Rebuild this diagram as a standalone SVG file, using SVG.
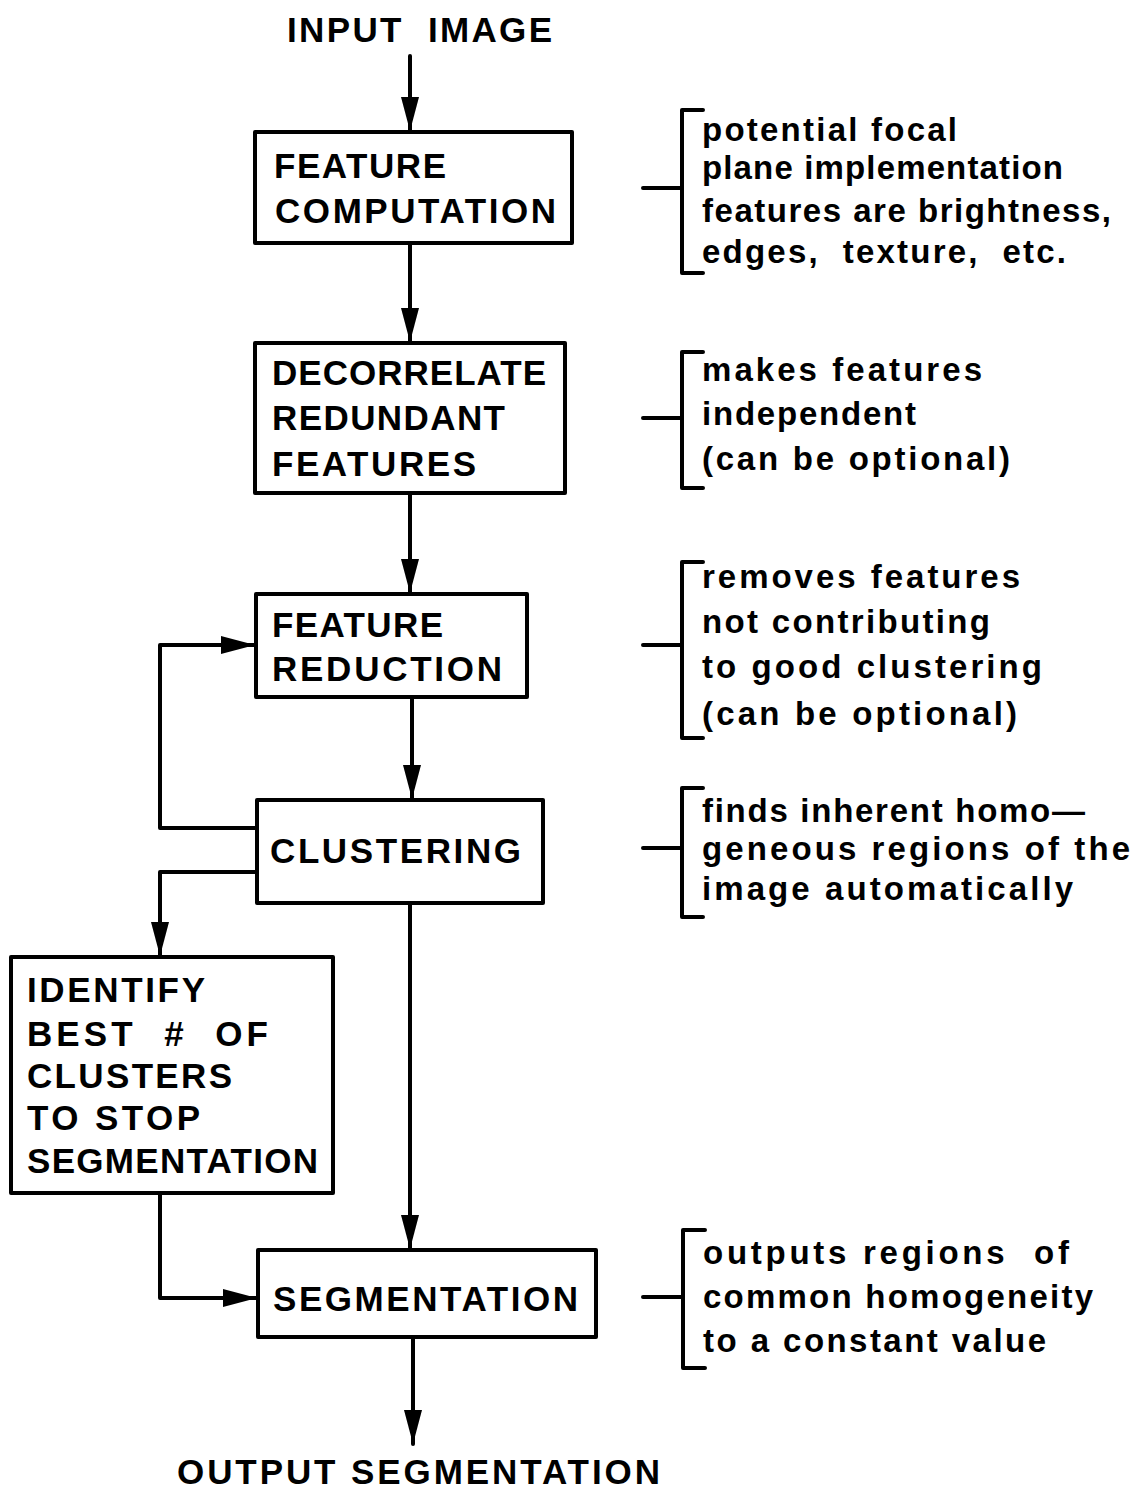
<svg xmlns="http://www.w3.org/2000/svg" width="1141" height="1491" viewBox="0 0 1141 1491">
  <style>
    .box { fill: #fff; stroke: #000; stroke-width: 4; stroke-linejoin: round; }
    .wire { fill: none; stroke: #000; stroke-width: 4; stroke-linejoin: round; stroke-linecap: round; }
    .cap { font-family: "Liberation Sans", Arial, sans-serif; font-weight: bold; font-size: 35px; fill: #000; white-space: pre; }
    .note { font-family: "Liberation Sans", Arial, sans-serif; font-weight: bold; font-size: 33px; fill: #000; white-space: pre; }
    .brace { fill: none; stroke: #000; stroke-width: 4; stroke-linecap: round; stroke-linejoin: round; }
  </style>
  <defs>
    <marker id="arrow" markerUnits="userSpaceOnUse" markerWidth="36" markerHeight="22" refX="34" refY="11" orient="auto">
      <path d="M0,2 L34,11 L0,20 Z" fill="#000"/>
    </marker>
  </defs>

  <rect width="1141" height="1491" fill="#fff"/>

  <!-- connectors -->
  <g id="connectors">
    <path class="wire" d="M410,56 L410,131" marker-end="url(#arrow)"/>
    <path class="wire" d="M410,243 L410,342" marker-end="url(#arrow)"/>
    <path class="wire" d="M410,493 L410,593" marker-end="url(#arrow)"/>
    <path class="wire" d="M412,697 L412,799" marker-end="url(#arrow)"/>
    <path class="wire" d="M257,828 L160,828 L160,645 L255,645" marker-end="url(#arrow)"/>
    <path class="wire" d="M257,872 L160,872 L160,956" marker-end="url(#arrow)"/>
    <path class="wire" d="M410,903 L410,1249" marker-end="url(#arrow)"/>
    <path class="wire" d="M160,1193 L160,1298 L257,1298" marker-end="url(#arrow)"/>
    <path class="wire" d="M413,1337 L413,1444" marker-end="url(#arrow)"/>
  </g>

  <!-- terminals -->
  <g id="input-image">
    <text class="cap" x="287" y="42" textLength="265" lengthAdjust="spacing">INPUT  IMAGE</text>
  </g>
  <g id="output-segmentation">
    <text class="cap" x="177" y="1484" textLength="483" lengthAdjust="spacing">OUTPUT SEGMENTATION</text>
  </g>

  <!-- process boxes -->
  <g id="feature-computation">
    <rect class="box" x="255" y="132" width="317" height="111"/>
    <text class="cap" x="274" y="178" textLength="172" lengthAdjust="spacing">FEATURE</text>
    <text class="cap" x="275" y="223" textLength="281" lengthAdjust="spacing">COMPUTATION</text>
  </g>

  <g id="decorrelate">
    <rect class="box" x="255" y="343" width="310" height="150"/>
    <text class="cap" x="272" y="385" textLength="274" lengthAdjust="spacing">DECORRELATE</text>
    <text class="cap" x="272" y="430" textLength="233" lengthAdjust="spacing">REDUNDANT</text>
    <text class="cap" x="272" y="476" textLength="204" lengthAdjust="spacing">FEATURES</text>
  </g>

  <g id="feature-reduction">
    <rect class="box" x="256" y="594" width="271" height="103"/>
    <text class="cap" x="272" y="637" textLength="171" lengthAdjust="spacing">FEATURE</text>
    <text class="cap" x="272" y="681" textLength="230" lengthAdjust="spacing">REDUCTION</text>
  </g>

  <g id="clustering">
    <rect class="box" x="257" y="800" width="286" height="103"/>
    <text class="cap" x="270" y="863" textLength="251" lengthAdjust="spacing">CLUSTERING</text>
  </g>

  <g id="identify-clusters">
    <rect class="box" x="11" y="957" width="322" height="236"/>
    <text class="cap" x="27" y="1002" textLength="178" lengthAdjust="spacing">IDENTIFY</text>
    <text class="cap" x="27" y="1046" textLength="241" lengthAdjust="spacing">BEST  #  OF</text>
    <text class="cap" x="27" y="1088" textLength="205" lengthAdjust="spacing">CLUSTERS</text>
    <text class="cap" x="27" y="1130" textLength="173" lengthAdjust="spacing">TO STOP</text>
    <text class="cap" x="27" y="1173" textLength="291" lengthAdjust="spacing">SEGMENTATION</text>
  </g>

  <g id="segmentation">
    <rect class="box" x="258" y="1250" width="338" height="87"/>
    <text class="cap" x="273" y="1311" textLength="305" lengthAdjust="spacing">SEGMENTATION</text>
  </g>

  <!-- side notes with brackets -->
  <g id="note-feature-computation">
    <path class="brace" d="M643,188 L682,188 M703,110 L682,110 L682,273 L703,273"/>
    <text class="note" x="702" y="141" textLength="255" lengthAdjust="spacing">potential focal</text>
    <text class="note" x="702" y="179" textLength="361" lengthAdjust="spacing">plane implementation</text>
    <text class="note" x="702" y="222" textLength="409" lengthAdjust="spacing">features are brightness,</text>
    <text class="note" x="702" y="263" textLength="364" lengthAdjust="spacing">edges,  texture,  etc.</text>
  </g>

  <g id="note-decorrelate">
    <path class="brace" d="M643,418 L682,418 M703,352 L682,352 L682,488 L703,488"/>
    <text class="note" x="702" y="381" textLength="280" lengthAdjust="spacing">makes features</text>
    <text class="note" x="702" y="425" textLength="214" lengthAdjust="spacing">independent</text>
    <text class="note" x="702" y="470" textLength="308" lengthAdjust="spacing">(can be optional)</text>
  </g>

  <g id="note-feature-reduction">
    <path class="brace" d="M643,645 L682,645 M703,562 L682,562 L682,738 L703,738"/>
    <text class="note" x="702" y="588" textLength="318" lengthAdjust="spacing">removes features</text>
    <text class="note" x="702" y="633" textLength="288" lengthAdjust="spacing">not contributing</text>
    <text class="note" x="702" y="678" textLength="340" lengthAdjust="spacing">to good clustering</text>
    <text class="note" x="702" y="725" textLength="315" lengthAdjust="spacing">(can be optional)</text>
  </g>

  <g id="note-clustering">
    <path class="brace" d="M643,848 L682,848 M703,788 L682,788 L682,917 L703,917"/>
    <text class="note" x="702" y="822" textLength="383" lengthAdjust="spacing">finds inherent homo—</text>
    <text class="note" x="702" y="860" textLength="428" lengthAdjust="spacing">geneous regions of the</text>
    <text class="note" x="702" y="900" textLength="371" lengthAdjust="spacing">image automatically</text>
  </g>

  <g id="note-segmentation">
    <path class="brace" d="M643,1297 L683,1297 M705,1230 L683,1230 L683,1368 L705,1368"/>
    <text class="note" x="703" y="1264" textLength="366" lengthAdjust="spacing">outputs regions  of</text>
    <text class="note" x="703" y="1308" textLength="390" lengthAdjust="spacing">common homogeneity</text>
    <text class="note" x="703" y="1352" textLength="343" lengthAdjust="spacing">to a constant value</text>
  </g>
</svg>
